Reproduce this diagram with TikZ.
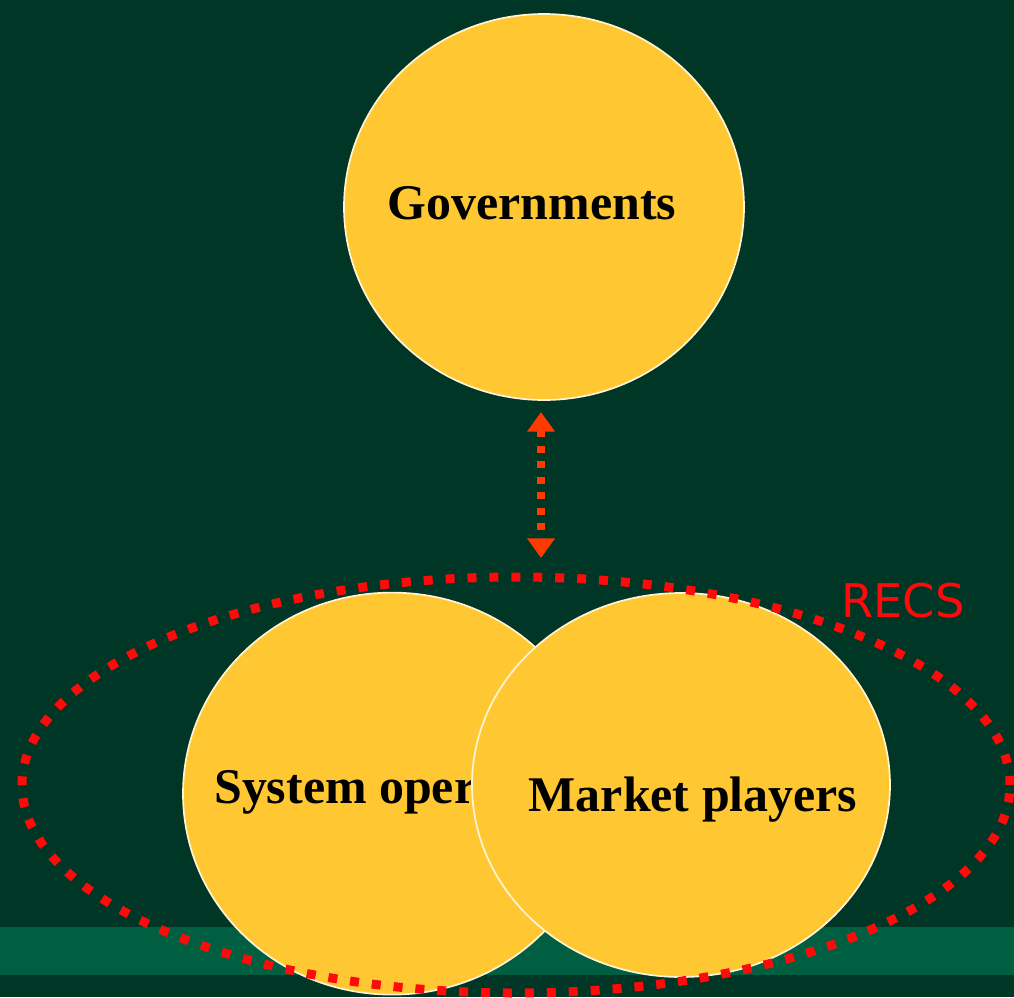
\documentclass[tikz,border=0pt]{standalone}
\usepackage{fontspec}
\setmainfont{Liberation Serif}
\newfontfamily\recsfont{DejaVu Sans}
\usetikzlibrary{shapes.geometric,arrows.meta}
\definecolor{bgdark}{HTML}{003626}
\definecolor{bandgreen}{HTML}{005F40}
\definecolor{gold}{HTML}{FFC832}
\definecolor{rim}{HTML}{FFF4D6}
\definecolor{recsred}{HTML}{FF0A0A}
\definecolor{arrowred}{HTML}{FF3A00}
\tikzset{
  actor/.style={ellipse, fill=gold, draw=rim, line width=1.2pt, inner sep=0pt, outer sep=0pt},
  actortext/.style={inner sep=0pt, font=\fontsize{35.5}{40}\selectfont\bfseries, text=black},
  recsring/.style={ellipse, draw=recsred, line width=6.4pt, dash pattern=on 6.4pt off 9.2pt, inner sep=0pt},
  link/.style={draw=arrowred, line width=5pt, dash pattern=on 5pt off 6pt,
    {Triangle[width=19pt,length=14pt]}-{Triangle[width=19pt,length=14pt]}}
}
\begin{document}
\begin{tikzpicture}
\fill[bgdark] (0,0) rectangle (25.35,-24.925);
\useasboundingbox (0,0) rectangle (25.35,-24.925);
\fill[bandgreen] (0,-23.175) rectangle (25.35,-24.375);
\node[actor, minimum width=10cm, minimum height=9.65cm] (gov) at (13.6,-5.175) {};
\node[actortext] (govtext) at (13.3,-5.08) {Governments};
\node[actor, minimum width=10.45cm, minimum height=10.05cm] (sys) at (9.8,-19.84) {};
\node[actortext, anchor=west] (systext) at (5.35,-19.8) {System operator};
\node[actor, minimum width=10.45cm, minimum height=9.6cm] (mkt) at (17.025,-19.625) {};
\node[actortext] (mkttext) at (17.325,-19.98) {Market players};
\node[recsring, minimum width=24.7cm, minimum height=10.4cm] (recs) at (12.9,-19.625) {};
\node[text=recsred, font=\recsfont\fontsize{33}{36}\selectfont] (recslabel) at (22.575,-15.025) {RECS};
\coordinate (atop) at (13.525,-10.3);
\coordinate (abot) at (13.525,-13.95);
\draw[link] (atop) -- (abot);
\end{tikzpicture}
\end{document}
